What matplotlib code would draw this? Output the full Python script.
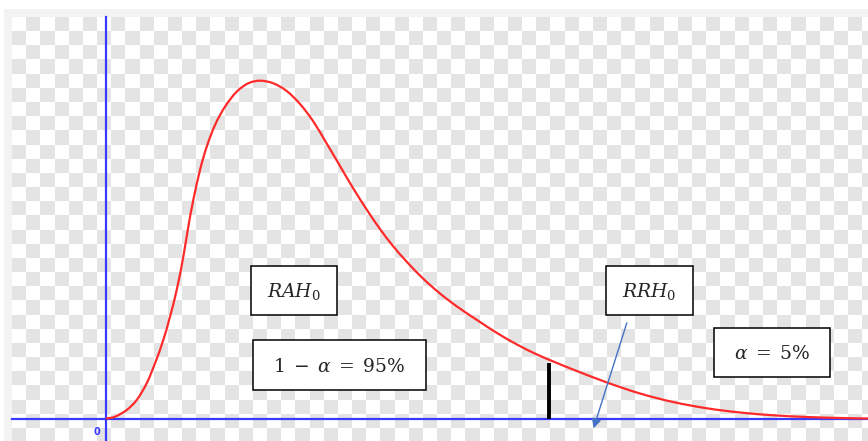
"""
Chi-square style density with the acceptance / rejection regions of H0.
Curve values read off the reference picture.
"""

import matplotlib.pyplot as plt
from matplotlib.colors import ListedColormap
from matplotlib.patches import PathPatch, Rectangle
from matplotlib.path import Path
import numpy as np

plt.rcParams["mathtext.fontset"] = "dejavuserif"

# density curve (statistic value, density)
curve_x = [0.000, 0.288, 0.663, 0.984, 1.304, 1.571, 1.837, 2.051, 2.266,
           2.478, 2.638, 2.798, 3.013, 3.228, 3.494, 3.814, 4.189, 4.561,
           4.936, 5.362, 5.792, 6.218, 6.635, 7.083, 7.500, 7.917, 8.365,
           8.782, 9.199, 9.647, 10.160, 10.705, 11.250, 11.891,
           12.532, 13.173, 13.814, 14.455, 14.968, 16.058, 17.115, 18.173,
           19.263, 20.321, 21.378, 22.468, 23.526, 24.423]
curve_y = [0.00000, 0.00065, 0.00307, 0.00668, 0.01271, 0.01993, 0.02834,
           0.03675, 0.04639, 0.05841, 0.06924, 0.07888, 0.08971, 0.09812,
           0.10596, 0.11256, 0.11798, 0.12101, 0.12195, 0.12101, 0.11823,
           0.11354, 0.10740, 0.09910, 0.09116, 0.08321, 0.07527, 0.06841,
           0.06227, 0.05650, 0.05054, 0.04513, 0.04043, 0.03556,
           0.03087, 0.02671, 0.02310, 0.02004, 0.01769, 0.01300, 0.00903,
           0.00596, 0.00368, 0.00217, 0.00116, 0.00054, 0.00018, 0.00000]

critical_value = 14.2
critical_height = 0.0199

labels = [r"$RAH_0$", r"$1\;-\;\alpha\;=\;95\%$", r"$RRH_0$", r"$\alpha\;=\;5\%$"]

W, H = 868, 441
BLUE = "#3a3aff"


def smooth_path(xs, ys):
    # Catmull-Rom through the read points, as cubic bezier segments
    pts = np.column_stack([xs, ys])
    verts = [pts[0]]
    codes = [Path.MOVETO]
    for i in range(len(pts) - 1):
        p0 = pts[max(i - 1, 0)]
        p1 = pts[i]
        p2 = pts[i + 1]
        p3 = pts[min(i + 2, len(pts) - 1)]
        verts += [p1 + (p2 - p0) / 6, p2 - (p3 - p1) / 6, p2]
        codes += [Path.CURVE4] * 3
    return Path(verts, codes)


def main():
    fig = plt.figure(figsize=(W / 100, H / 100), dpi=100)

    # background layer in pixel coordinates
    deco = fig.add_axes([0, 0, 1, 1])
    deco.axis("off")
    deco.add_patch(Rectangle((4, 9), W, H, facecolor="#f3f3f3", edgecolor="none"))
    sq = 14.17
    n_cols, n_rows = 61, 30
    board = np.indices((n_rows, n_cols)).sum(axis=0) % 2
    deco.imshow(board, cmap=ListedColormap(["white", "#e4e4e4"]),
                extent=[12, 12 + n_cols * sq, 17 + n_rows * sq, 17],
                interpolation="nearest", aspect="auto", zorder=1)
    deco.set_xlim(0, W)
    deco.set_ylim(H, 0)

    # text boxes (left, top, right, bottom in pixels)
    boxes = [(251, 266, 337, 315), (253, 340, 426, 390),
             (606, 266, 693, 315), (714, 328, 830, 377)]
    for (l, t, r, b), lab in zip(boxes, labels):
        deco.add_patch(Rectangle((l, t), r - l, b - t, facecolor="white",
                                 edgecolor="black", linewidth=1.1, zorder=5))
        deco.text((l + r) / 2, (t + b) / 2 + 1, lab, ha="center", va="center",
                  fontsize=13.5, color="#262626", zorder=6)

    # main layer in data coordinates
    ax = fig.add_axes([0, 0, 1, 1])
    ax.patch.set_alpha(0)
    ax.set_xlim(-106 / 31.2, 762 / 31.2)
    ax.set_ylim(-22.5 / 2770, 418.5 / 2770)
    ax.axis("off")

    ax.axhline(0, xmin=12 / W, xmax=1, color=BLUE, linewidth=1.6, zorder=2)
    ax.axvline(0, ymin=0, ymax=(H - 17) / H, color=BLUE, linewidth=1.6, zorder=2)
    ax.text(-0.3, -0.005, "0", color=BLUE, fontsize=7, fontweight="bold",
            ha="center", va="center")

    ax.add_patch(PathPatch(smooth_path(curve_x, curve_y), facecolor="none",
                           edgecolor="#ff2a2a", linewidth=1.6, zorder=3))
    ax.plot([critical_value, critical_value], [0, critical_height],
            color="black", linewidth=2.8, solid_capstyle="butt", zorder=4)

    ax.annotate("", xy=(15.6, -0.0045), xytext=(16.72, 0.0355),
                arrowprops=dict(arrowstyle="-|>", color="#4472c4",
                                linewidth=1.0, mutation_scale=14), zorder=4)

    fig.savefig("out.png", dpi=100)


if __name__ == "__main__":
    main()
